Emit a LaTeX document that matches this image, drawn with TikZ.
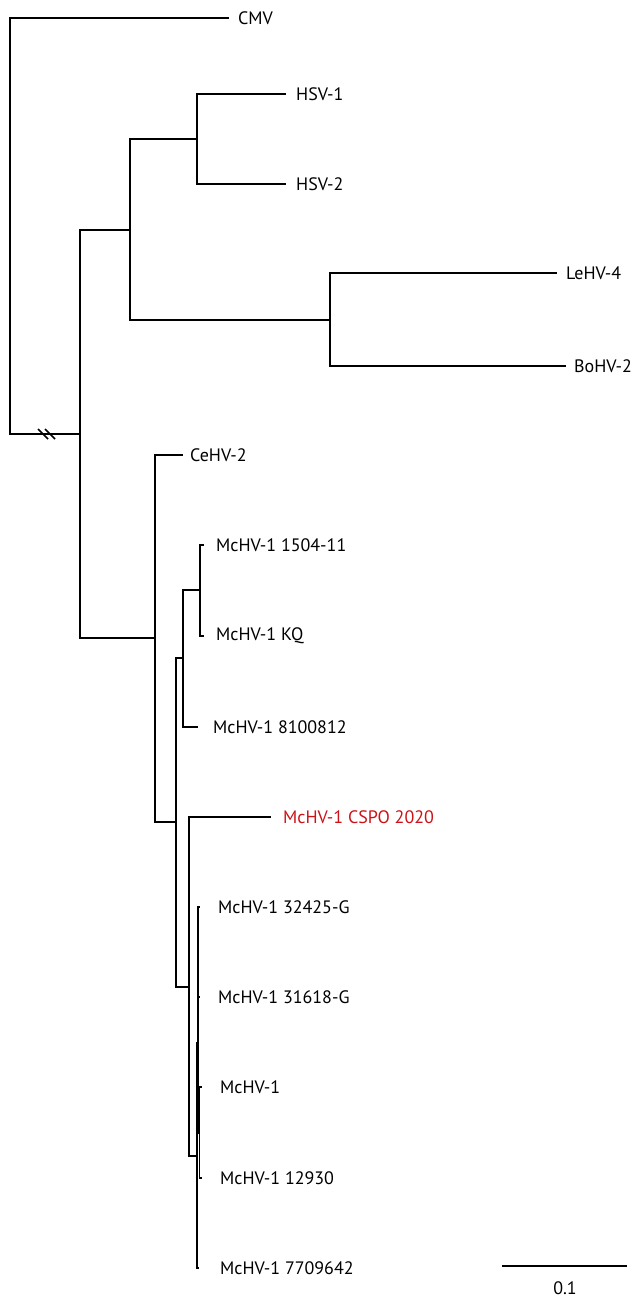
\documentclass[tikz,border=0pt]{standalone}
\usepackage{fontspec}
\setmainfont{PT Sans}
\definecolor{cspored}{RGB}{204,18,24}
\begin{document}
\begin{tikzpicture}[x=1pt,y=-1pt,
  branch/.style={line width=1.5pt,line cap=rect},
  taxon/.style={anchor=west,inner sep=0pt,font=\fontsize{18}{20}\selectfont},
  highlight/.style={taxon,text=cspored}]
\useasboundingbox (0,0) rectangle (633,1300);
% internal nodes
\coordinate (R) at (10,226);
\coordinate (A) at (80,434);
\coordinate (B) at (130,230);
\coordinate (D) at (197,139);
\coordinate (E) at (330,320);
\coordinate (C) at (155,638);
\coordinate (F) at (176,822);
\coordinate (G) at (183,658);
\coordinate (H) at (200,590);
\coordinate (I) at (189,987);
\coordinate (J) at (197,1156);
\coordinate (K) at (198,1043);
\coordinate (N) at (199.5,1133);
% tips
\coordinate (tCMV) at (228,18);
\coordinate (tHSV1) at (285,94);
\coordinate (tHSV2) at (285,184);
\coordinate (tLeHV) at (556,273);
\coordinate (tBoHV) at (565,366);
\coordinate (tCeHV) at (182,455);
\coordinate (t1504) at (203,545);
\coordinate (tKQ) at (203,636);
\coordinate (t8100) at (197,727);
\coordinate (tCSPO) at (270,817);
\coordinate (t32425) at (199,907);
\coordinate (t31618) at (199,997);
\coordinate (tMcHV) at (201,1087);
\coordinate (t12930) at (201,1178);
\coordinate (t7709) at (198,1268);
% labels
\node[taxon] (lCMV) at (238,18) {CMV};
\node[taxon] (lHSV1) at (296,94) {HSV-1};
\node[taxon] (lHSV2) at (296,184) {HSV-2};
\node[taxon] (lLeHV) at (566,273) {LeHV-4};
\node[taxon] (lBoHV) at (574,366) {BoHV-2};
\node[taxon] (lCeHV) at (190,455) {CeHV-2};
\node[taxon] (l1504) at (216,545) {McHV-1 1504-11};
\node[taxon] (lKQ) at (216,636) {McHV-1 KQ};
\node[taxon] (l8100) at (213,727) {McHV-1 8100812};
\node[highlight] (lCSPO) at (283,817) {McHV-1 CSPO 2020};
\node[taxon] (l32425) at (218,907) {McHV-1 32425-G};
\node[taxon] (l31618) at (218,997) {McHV-1 31618-G};
\node[taxon] (lMcHV) at (220,1087) {McHV-1};
\node[taxon] (l12930) at (220,1178) {McHV-1 12930};
\node[taxon] (l7709) at (220,1268) {McHV-1 7709642};
% branches
\draw[branch] (R) |- (tCMV);
\draw[branch] (R) |- (A);
\draw[branch] (A) |- (B);
\draw[branch] (A) |- (C);
\draw[branch] (B) |- (D);
\draw[branch] (B) |- (E);
\draw[branch] (D) |- (tHSV1);
\draw[branch] (D) |- (tHSV2);
\draw[branch] (E) |- (tLeHV);
\draw[branch] (E) |- (tBoHV);
\draw[branch] (C) |- (tCeHV);
\draw[branch] (C) |- (F);
\draw[branch] (F) |- (G);
\draw[branch] (F) |- (I);
\draw[branch] (G) |- (H);
\draw[branch] (G) |- (t8100);
\draw[branch] (H) |- (t1504);
\draw[branch] (H) |- (tKQ);
\draw[branch] (I) |- (tCSPO);
\draw[branch] (I) |- (J);
\draw[branch] (J) |- (K);
\draw[branch] (J) |- (t7709);
\draw[branch] (K) |- (t32425);
\draw[branch] (K) |- (t31618);
\draw[branch] (K) |- (N);
\draw[branch] (N) |- (tMcHV);
\draw[branch] (N) |- (t12930);
% break marks on root branch
\coordinate (brk1) at (43,434);
\coordinate (brk2) at (50,434);
\draw[line width=1.5pt] ([xshift=-5pt,yshift=5pt]brk1) -- ([xshift=5pt,yshift=-5pt]brk1);
\draw[line width=1.5pt] ([xshift=-5pt,yshift=5pt]brk2) -- ([xshift=5pt,yshift=-5pt]brk2);
% scale bar
\coordinate (sb1) at (502,1266);
\coordinate (sb2) at (627,1266);
\draw[branch,line cap=butt] (sb1) -- (sb2);
\node[taxon,anchor=center] (sblabel) at (565,1288) {0.1};
\end{tikzpicture}
\end{document}
